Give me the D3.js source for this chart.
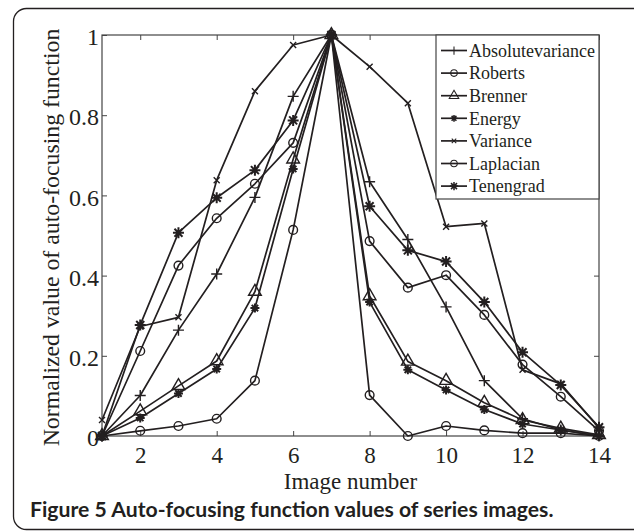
<!DOCTYPE html>
<html>
<head>
<meta charset="utf-8">
<script src="https://cdn.jsdelivr.net/npm/d3@7"></script>
<style>
  body { margin: 0; background: #fff; }
  svg { display: block; }
</style>
</head>
<body>
<svg id="chart" width="634" height="531"></svg>
<script>
const imageNumbers = [1, 2, 3, 4, 5, 6, 7, 8, 9, 10, 11, 12, 13, 14];

const absVariance = [0, 0.101, 0.264, 0.404, 0.595, 0.847, 1, 0.634, 0.49, 0.322, 0.138, 0.043, 0.015, 0];
const roberts     = [0, 0.212, 0.425, 0.543, 0.629, 0.731, 1, 0.486, 0.37, 0.401, 0.302, 0.178, 0.098, 0.013];
const brenner     = [0, 0.062, 0.125, 0.187, 0.36, 0.69, 1, 0.349, 0.186, 0.138, 0.083, 0.04, 0.019, 0.003];
const energy      = [0, 0.045, 0.106, 0.167, 0.319, 0.666, 1, 0.334, 0.165, 0.115, 0.066, 0.03, 0.015, 0];
const variance    = [0.04, 0.273, 0.296, 0.638, 0.86, 0.975, 1, 0.921, 0.83, 0.522, 0.53, 0.165, 0.13, 0.02];
const laplacian   = [0, 0.013, 0.025, 0.043, 0.138, 0.514, 1, 0.102, 0, 0.025, 0.014, 0.007, 0.007, 0];
const tenengrad   = [0, 0.277, 0.507, 0.594, 0.663, 0.787, 1, 0.573, 0.463, 0.435, 0.334, 0.209, 0.127, 0.022];

const seriesNames = ["Absolutevariance", "Roberts", "Brenner", "Energy", "Variance", "Laplacian", "Tenengrad"];
const seriesValues = [absVariance, roberts, brenner, energy, variance, laplacian, tenengrad];
const seriesMarkers = ["plus", "circle", "triangle", "starSmall", "cross", "circle", "star"];

const xTicks = [2, 4, 6, 8, 10, 12, 14];
const yTicks = [0, 0.2, 0.4, 0.6, 0.8, 1];

const ink = "#231f20";
const serif = "'Liberation Serif', 'Times New Roman', serif";

const svg = d3.select("#chart");

// rounded frame around the figure, right/bottom run off the page
svg.append("rect")
    .attr("x", 13.5).attr("y", 8.5)
    .attr("width", 640).attr("height", 521)
    .attr("rx", 13)
    .attr("fill", "none")
    .attr("stroke", ink)
    .attr("stroke-width", 1.3);

const margin = {left: 102, top: 35, right: 35, bottom: 95};
const width = 634 - margin.left - margin.right;
const height = 531 - margin.top - margin.bottom;

const x = d3.scaleLinear().domain([1, 14]).range([0, width]);
const y = d3.scaleLinear().domain([0, 1]).range([height, 0]);

const g = svg.append("g")
    .attr("transform", "translate(" + margin.left + "," + margin.top + ")");

// box + inward ticks on all four sides (matlab style)
function styleAxis(sel) {
    sel.select(".domain").remove();
    sel.selectAll("line").attr("stroke", "#444").attr("stroke-width", 1);
}
const xAxis = g.append("g").attr("transform", "translate(0," + height + ")")
    .call(d3.axisBottom(x).tickValues(xTicks).tickSize(-5).tickFormat(d3.format("d")))
    .call(styleAxis);
xAxis.selectAll("text").attr("dy", 0).attr("y", 26.5).style("font-size", "23px");
g.append("g")
    .call(d3.axisTop(x).tickValues(xTicks).tickSize(-5).tickFormat(""))
    .call(styleAxis);
const yAxis = g.append("g")
    .call(d3.axisLeft(y).tickValues(yTicks).tickSize(-5).tickFormat(d => d === 0 || d === 1 ? d : d3.format(".1f")(d)))
    .call(styleAxis);
yAxis.selectAll("text").attr("x", -3).attr("dy", "0.4em").style("font-size", "24px");
g.append("g").attr("transform", "translate(" + width + ",0)")
    .call(d3.axisRight(y).tickValues(yTicks).tickSize(-5).tickFormat(""))
    .call(styleAxis);

g.selectAll(".tick text")
    .attr("fill", ink)
    .style("font-family", serif);

g.append("rect")
    .attr("width", width).attr("height", height)
    .attr("fill", "none")
    .attr("stroke", "#444")
    .attr("stroke-width", 1.2);

const line = d3.line()
    .x((d, i) => x(imageNumbers[i]))
    .y(d => y(d));

function markerPath(type) {
    switch (type) {
        case "plus": return "M-5.5,0H5.5M0,-5.5V5.5";
        case "cross": return "M-3,-3L3,3M-3,3L3,-3";
        case "star": return "M-5.5,0H5.5M0,-5.5V5.5M-4,-4L4,4M-4,4L4,-4";
        case "starSmall": return "M-4.5,0H4.5M0,-4.5V4.5M-3.2,-3.2L3.2,3.2M-3.2,3.2L3.2,-3.2";
        case "circle": return d3.symbol(d3.symbolCircle, 60)();
        case "triangle": return d3.symbol(d3.symbolTriangle, 70)();
    }
}

function drawMarker(sel, type) {
    sel.append("path")
        .attr("d", markerPath(type))
        .attr("fill", "none")
        .attr("stroke", ink)
        .attr("stroke-width", type === "star" || type === "starSmall" ? 2 : 1.4);
}

seriesValues.forEach((vals, k) => {
    g.append("path")
        .datum(vals)
        .attr("d", line)
        .attr("fill", "none")
        .attr("stroke", ink)
        .attr("stroke-width", 1.7)
        .attr("stroke-linejoin", "round");

    g.append("g").selectAll("g")
        .data(vals)
        .enter()
        .append("g")
        .attr("transform", (d, i) => "translate(" + x(imageNumbers[i]) + "," + y(d) + ")")
        .each(function () { drawMarker(d3.select(this), seriesMarkers[k]); });
});

// legend in the top-right corner of the box
const legendLeft = 436 - margin.left;
const legend = g.append("g");
legend.append("rect")
    .attr("x", legendLeft).attr("y", 0)
    .attr("width", width - legendLeft).attr("height", 164)
    .attr("fill", "#fff")
    .attr("stroke", "#444")
    .attr("stroke-width", 1.2);

seriesNames.forEach((name, k) => {
    const row = legend.append("g")
        .attr("transform", "translate(" + legendLeft + "," + (15.5 + k * 22.6) + ")");
    row.append("line")
        .attr("x1", 5).attr("x2", 31)
        .attr("stroke", ink).attr("stroke-width", 1.7);
    const m = row.append("g").attr("transform", "translate(18,0)");
    drawMarker(m, seriesMarkers[k]);
    m.select("path").attr("transform", "scale(0.75)");
    row.append("text")
        .attr("x", 33)
        .attr("dy", "0.35em")
        .attr("fill", ink)
        .style("font-family", serif)
        .style("font-size", "18px")
        .text(name);
});

// axis titles
g.append("text")
    .attr("x", width / 2)
    .attr("y", height + 53)
    .attr("text-anchor", "middle")
    .attr("fill", ink)
    .style("font-family", serif)
    .style("font-size", "23px")
    .text("Image number");

g.append("text")
    .attr("transform", "translate(" + (59 - margin.left) + "," + (height / 2 + 2) + ")rotate(-90)")
    .attr("text-anchor", "middle")
    .attr("fill", ink)
    .style("font-family", serif)
    .style("font-size", "23.8px")
    .text("Normalized value of auto-focusing function");

// caption
svg.append("text")
    .attr("x", 30)
    .attr("y", 517)
    .attr("fill", ink)
    .style("font-family", "Lato, 'Open Sans', sans-serif")
    .style("font-weight", "bold")
    .style("font-size", "21.2px")
    .text("Figure 5 Auto-focusing function values of series images.");
</script>
</body>
</html>
